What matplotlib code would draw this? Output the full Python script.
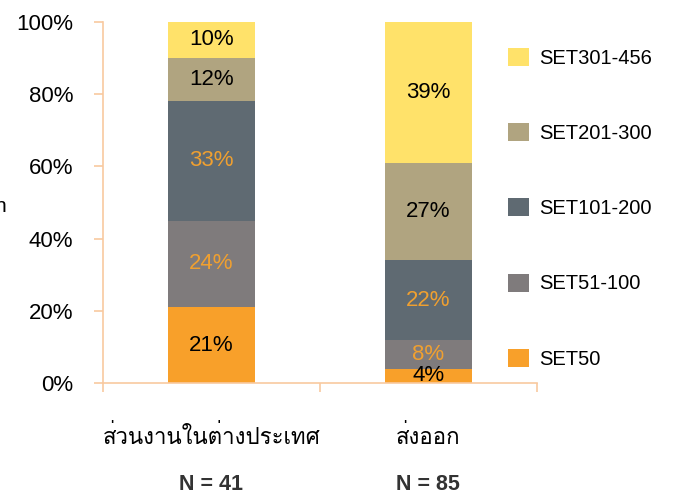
import matplotlib
matplotlib.use("Agg")
import matplotlib.pyplot as plt
import numpy as np
from matplotlib import font_manager
from matplotlib.ft2font import FT2Font
from matplotlib.patches import Patch

categories = ["ส่วนงานในต่างประเทศ", "ส่งออก"]
counts = ["N = 41", "N = 85"]
series_names = ["SET50", "SET51-100", "SET101-200", "SET201-300", "SET301-456"]
set50 = [21, 4]
set51_100 = [24, 8]
set101_200 = [33, 22]
set201_300 = [12, 27]
set301_456 = [10, 39]
series_values = [set50, set51_100, set101_200, set201_300, set301_456]

colors = ["#F8A02A", "#7F7B7C", "#5F6A72", "#B0A480", "#FFE26A"]
label_colors = ["black", "#F0A030", "#F0A030", "black", "black"]
axis_color = "#F8C9A0"


def find_thai_family():
    for entry in font_manager.fontManager.ttflist:
        try:
            if 0x0E2A in FT2Font(entry.fname).get_charmap():
                return entry.name
        except Exception:
            continue
    return None


thai = find_thai_family()
families = ["Liberation Sans"] + ([thai] if thai else []) + ["DejaVu Sans"]
plt.rcParams["font.family"] = families

fig = plt.figure(figsize=(6.82, 4.97), dpi=100)
ax = fig.add_axes([0.151, 0.229, 0.636, 0.727])

x = np.arange(len(categories))
bottom = np.zeros(len(categories))
for name, vals, col, lcol in zip(series_names, series_values, colors, label_colors):
    vals = np.array(vals, dtype=float)
    ax.bar(x, vals, width=0.4, bottom=bottom, color=col, edgecolor="none", label=name)
    for xi, v, b in zip(x, vals, bottom):
        ax.text(xi, b + v / 2, f"{int(v)}%", ha="center", va="center",
                fontsize=16, color=lcol)
    bottom += vals

ax.set_xlim(-0.5, 1.5)
ax.set_ylim(0, 100)
ax.set_yticks(np.arange(0, 101, 20))
ax.set_yticklabels([f"{v}%" for v in range(0, 101, 20)], fontsize=16)
ax.set_xticks([-0.5, 0.5, 1.5])
ax.set_xticklabels([])
ax.tick_params(axis="both", colors=axis_color, length=6.5, width=1.2, labelcolor="black")
ax.tick_params(axis="y", pad=15)
for side in ["top", "right"]:
    ax.spines[side].set_visible(False)
for side in ["left", "bottom"]:
    ax.spines[side].set_color(axis_color)
    ax.spines[side].set_linewidth(1.2)

for xi, cat, n in zip(x, categories, counts):
    ax.text(xi, -15, cat, ha="center", va="center", fontsize=16, clip_on=False)
    ax.text(xi, -28, n, ha="center", va="center", fontsize=15.5,
            fontweight="bold", color="#333333", clip_on=False)

fig.text(0.0, 0.585, "n", fontsize=15, ha="center", va="center")

handles = [Patch(facecolor=c, edgecolor="none") for c in colors][::-1]
leg = fig.legend(handles, series_names[::-1], loc="upper left",
                 bbox_to_anchor=(0.719, 0.9406), frameon=False, fontsize=14.5,
                 handlelength=1.0, handleheight=1.0, handletextpad=0.5,
                 labelspacing=2.75)

fig.savefig("out.png", dpi=100)
